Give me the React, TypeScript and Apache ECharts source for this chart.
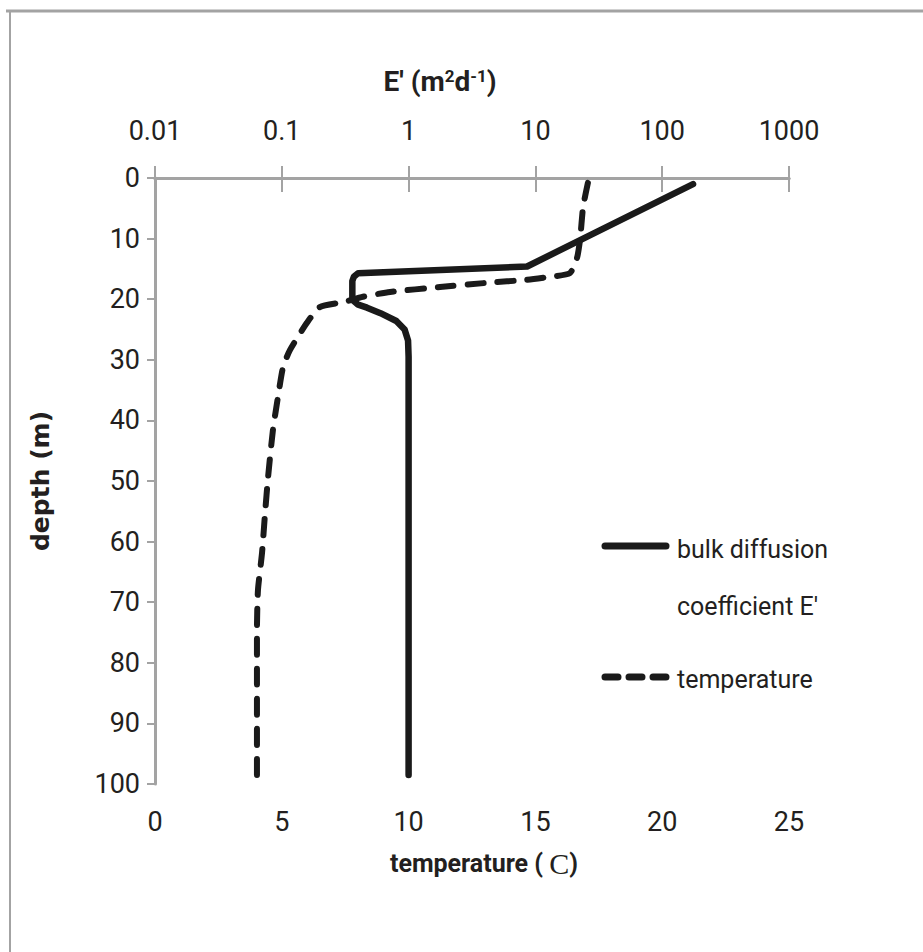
import React, { useEffect, useRef } from "react";
import * as echarts from "echarts";

// Depth (m) axis
const depthTicks = [0, 10, 20, 30, 40, 50, 60, 70, 80, 90, 100];
// Top log axis labels (E')
const eTickLabels = ["0.01", "0.1", "1", "10", "100", "1000"];
// Bottom temperature axis labels
const tempTickLabels = ["0", "5", "10", "15", "20", "25"];

// Bulk diffusion coefficient E' (m2 d-1) vs depth (m)
const eValues = [175, 8.6, 0.4, 0.37, 0.36, 0.36, 0.4, 0.47, 0.6, 0.8, 0.93, 0.99, 1.0, 1.0];
const eDepths = [1.0, 14.6, 15.7, 16.3, 17.0, 20.1, 20.9, 21.4, 22.3, 23.6, 25.0, 26.8, 29.5, 98.5];

// Temperature (C) vs depth (m)
const tempValues = [17.07, 16.88, 16.76, 16.64, 16.36, 15.58, 14.67, 13.09, 11.24, 9.27, 8.2, 7.41, 6.5, 5.99, 5.32, 5.05, 4.85, 4.65, 4.46, 4.34, 4.22, 4.06, 4.02, 4.02];
const tempDepths = [0.8, 4.8, 10.2, 13.2, 15.7, 16.3, 16.8, 17.3, 18.0, 18.8, 19.6, 20.5, 21.3, 23.9, 28.4, 31.2, 36.1, 41.6, 49.3, 55.3, 61.9, 68, 74.6, 99.8];

const seriesNames = ["bulk diffusion\ncoefficient E'", "temperature"];

const FONT = "Roboto, 'Liberation Sans', sans-serif";
const AXIS_GRAY = "#a3a3a3";
const TEXT = "#231f20";

export default function App() {
  const ref = useRef<HTMLDivElement>(null);

  useEffect(() => {
    if (!ref.current) return;
    const chart = echarts.init(ref.current, null, { renderer: "svg" });

    const eData = eValues.map((v, i) => [v, eDepths[i]]);
    const tData = tempValues.map((v, i) => [v, tempDepths[i]]);

    const option: any = {
      animation: false,
      backgroundColor: "#ffffff",
      grid: { left: 155, right: 134, top: 178, bottom: 168, containLabel: false },
      xAxis: [
        {
          type: "value",
          position: "bottom",
          min: 0,
          max: 25,
          interval: 5,
          name: "temperature ( {c|C})",
          nameLocation: "middle",
          nameGap: 64,
          nameTextStyle: {
            fontFamily: FONT,
            fontWeight: "bold",
            fontSize: 25,
            color: TEXT,
            padding: [0, 0, 0, 24],
            rich: {
              c: { fontFamily: "'Liberation Serif', serif", fontWeight: "normal", fontSize: 30, color: TEXT },
            },
          },
          axisLine: { show: true, lineStyle: { color: AXIS_GRAY, width: 3 } },
          axisTick: { show: true, length: 14, lineStyle: { color: AXIS_GRAY, width: 2 } },
          axisLabel: {
            margin: 24,
            fontFamily: FONT,
            fontSize: 27,
            color: TEXT,
            formatter: (_v: number, i: number) => tempTickLabels[i],
          },
          splitLine: { show: false },
        },
        {
          type: "log",
          logBase: 10,
          position: "top",
          min: 0.01,
          max: 1000,
          interval: 1,
          name: "E' (m{s|2}d{s|-1})",
          nameLocation: "middle",
          nameGap: 83,
          nameTextStyle: {
            fontFamily: FONT,
            fontWeight: "bold",
            fontSize: 28,
            color: TEXT,
            padding: [0, 64, 0, 0],
            rich: {
              s: { fontFamily: FONT, fontWeight: "bold", fontSize: 17, color: TEXT, verticalAlign: "top" },
            },
          },
          axisLine: { show: true, lineStyle: { color: AXIS_GRAY, width: 3 } },
          axisTick: { show: true, length: 12, lineStyle: { color: AXIS_GRAY, width: 2 } },
          axisLabel: {
            margin: 34,
            fontFamily: FONT,
            fontSize: 27,
            color: TEXT,
            formatter: (_v: number, i: number) => eTickLabels[i],
          },
          splitLine: { show: false },
        },
      ],
      yAxis: {
        type: "value",
        inverse: true,
        min: depthTicks[0],
        max: depthTicks[depthTicks.length - 1],
        interval: 10,
        name: "depth (m)",
        nameLocation: "middle",
        nameGap: 102,
        nameTextStyle: {
          fontFamily: "'DejaVu Sans', sans-serif",
          fontWeight: "bold",
          fontSize: 25,
          color: TEXT,
        },
        axisLine: { show: true, onZero: false, lineStyle: { color: AXIS_GRAY, width: 3 } },
        axisTick: { show: true, length: 8, lineStyle: { color: AXIS_GRAY, width: 2 } },
        axisLabel: { margin: 15, fontFamily: FONT, fontSize: 27, color: TEXT },
        splitLine: { show: false },
      },
      series: [
        {
          name: seriesNames[0],
          type: "line",
          xAxisIndex: 1,
          yAxisIndex: 0,
          data: eData,
          showSymbol: false,
          symbol: "none",
          smooth: false,
          lineStyle: { color: "#1a1a1a", width: 6.5, cap: "round", join: "round" },
        },
        {
          name: seriesNames[1],
          type: "line",
          xAxisIndex: 0,
          yAxisIndex: 0,
          data: tData,
          showSymbol: false,
          symbol: "none",
          smooth: 0.2,
          lineStyle: { color: "#1a1a1a", width: 6, type: [16, 14], cap: "round", join: "round" },
        },
      ],
      graphic: [
        // outer frame (top and left edges)
        { type: "line", shape: { x1: 6, y1: 11, x2: 923, y2: 11 }, style: { stroke: "#a3a3a3", lineWidth: 3 } },
        { type: "line", shape: { x1: 10, y1: 11, x2: 10, y2: 952 }, style: { stroke: "#a3a3a3", lineWidth: 2 } },
        // legend
        { type: "line", shape: { x1: 605, y1: 546, x2: 666, y2: 546 }, style: { stroke: "#1a1a1a", lineWidth: 7, lineCap: "round" } },
        {
          type: "text",
          x: 677,
          y: 549,
          style: { text: "bulk diffusion", fontFamily: FONT, fontSize: 25, fill: TEXT, verticalAlign: "middle" },
        },
        {
          type: "text",
          x: 677,
          y: 606,
          style: { text: "coefficient E'", fontFamily: FONT, fontSize: 25, fill: TEXT, verticalAlign: "middle" },
        },
        {
          type: "line",
          shape: { x1: 605, y1: 677, x2: 666, y2: 677 },
          style: { stroke: "#1a1a1a", lineWidth: 7, lineCap: "round", lineDash: [13, 11] },
        },
        {
          type: "text",
          x: 677,
          y: 679,
          style: { text: "temperature", fontFamily: FONT, fontSize: 25, fill: TEXT, verticalAlign: "middle" },
        },
      ],
    };

    chart.setOption(option);
    return () => chart.dispose();
  }, []);

  return (
    <div
      ref={ref}
      style={{ position: "fixed", left: 0, top: 0, width: 923, height: 952, background: "#fff" }}
    />
  );
}
